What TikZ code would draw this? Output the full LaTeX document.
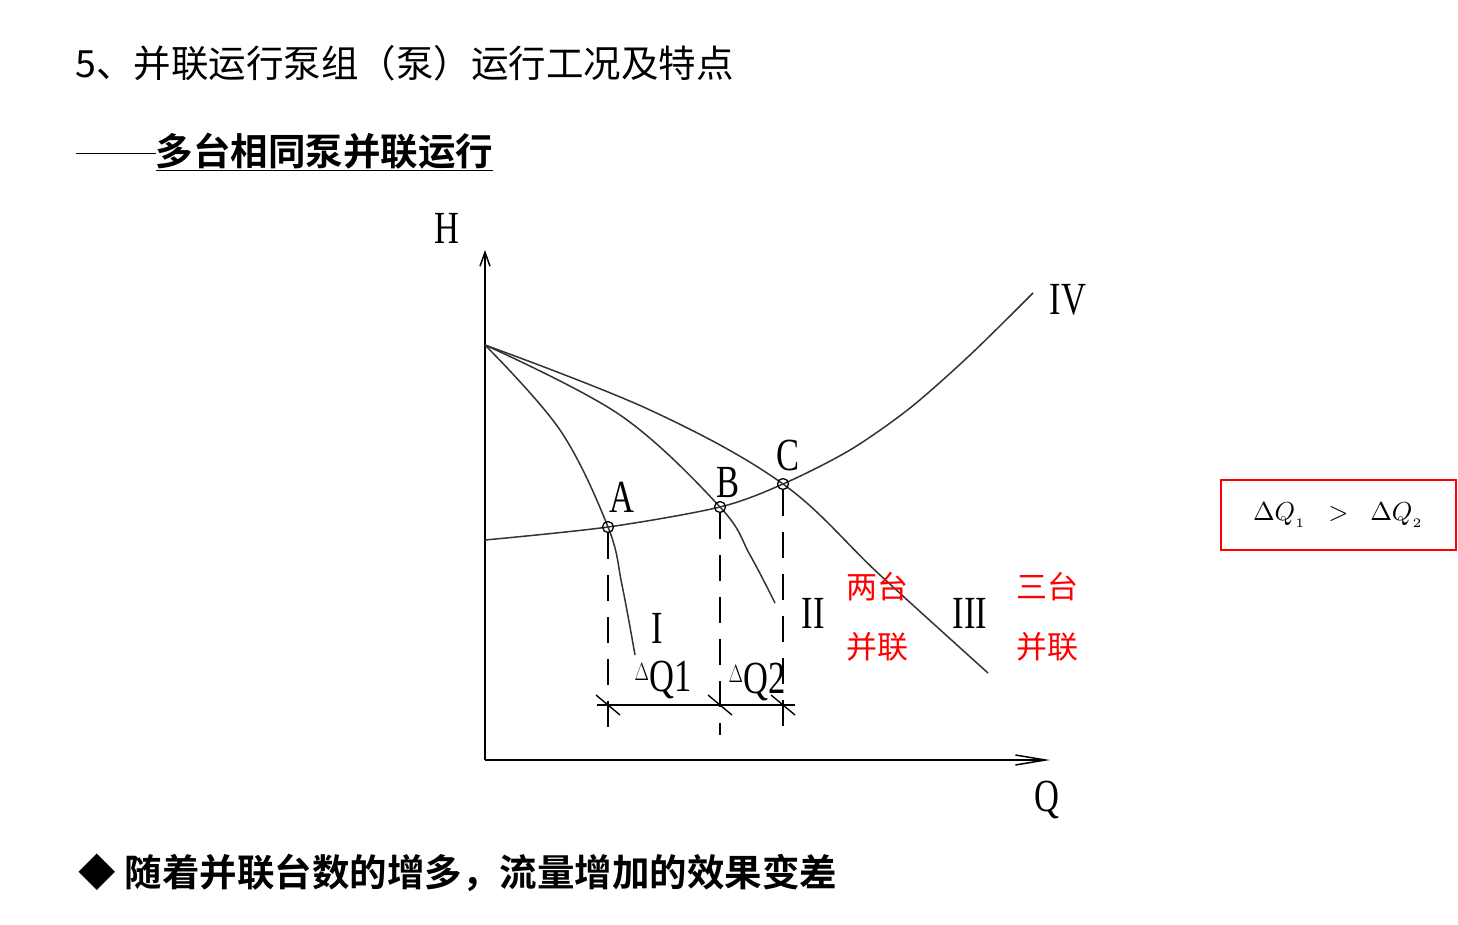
\documentclass[tikz,border=0pt]{standalone}
\usepackage{fontspec}
\newfontfamily\cjk{Noto Sans CJK SC}
\newfontfamily\cjkb{Noto Sans CJK SC Bold}
\setmainfont{Liberation Serif}
\usetikzlibrary{arrows.meta}
\begin{document}
\begin{tikzpicture}[x=1pt,y=-1pt,
  crv/.style={line width=1.5pt,black!80},
  dsh/.style={line width=1.4pt,dash pattern=on 26pt off 16pt},
  lbl/.style={font=\fontsize{46}{46}\selectfont,scale=1,xscale=0.75},
  red/.style={text=red,font=\cjk\fontsize{31}{31}\selectfont},
  pt/.style={circle,draw,line width=1.3pt,inner sep=0pt,minimum size=11pt}]
\useasboundingbox (0,0) rectangle (1458,924);
\node[anchor=west,font=\cjk\fontsize{37.5}{37.5}\selectfont] (t) at (72,63) {5、并联运行泵组（泵）运行工况及特点};
\node[anchor=west,font=\cjkb\fontsize{37.5}{37.5}\selectfont] (s) at (72,152) {\rule[0.3em]{80pt}{1.5pt}\underline{多台相同泵并联运行}};
\node[anchor=west,font=\cjkb\fontsize{37.5}{37.5}\selectfont] (b) at (75,873) {◆ 随着并联台数的增多，流量增加的效果变差};
% axes
\coordinate (O) at (485,760);
\coordinate (Ht) at (485,250);
\coordinate (Qt) at (1050,760);
\draw[line width=1.5pt,-{Straight Barb[length=14pt,width=10pt]}] (O) -- (Ht);
\draw[line width=1.5pt,-{Straight Barb[length=30pt,width=10pt]}] (O) -- (Qt);
\node[lbl] (H) at (447,228) {H};
\node[lbl] (Q) at (1047,800) {Q};
% points
\coordinate (S) at (485,345);
\coordinate (A) at (608,527);
\coordinate (B) at (720,507);
\coordinate (C) at (783,484);
\draw[crv] plot[smooth,tension=0.6] coordinates {(S) (560,430) (A) (622,585) (635,655)};
\draw[crv] plot[smooth,tension=0.6] coordinates {(S) (620,415) (B) (750,555) (775,603)};
\draw[crv] plot[smooth,tension=0.6] coordinates {(S) (650,410) (C) (880,575) (988,673)};
\draw[crv] plot[smooth,tension=0.5] coordinates {(485,540) (A) (B) (C) (850,450) (910,408) (970,355) (1033,293)};
\node[pt] (pA) at (A) {};
\node[pt] (pB) at (B) {};
\node[pt] (pC) at (C) {};
\coordinate (a1) at (608,735); \coordinate (b1) at (720,735); \coordinate (c1) at (783,735);
\draw[dsh] (pA.south) -- (a1);
\draw[dsh] (pB.south) -- (b1);
\draw[dsh] (pC.south) -- (c1);
\coordinate (d1) at (597,705); \coordinate (d2) at (795,705);
\draw[line width=1.4pt] (d1) -- (d2);
\foreach \x in {608,720,783} \draw[line width=1.4pt] (\x-12,695) -- (\x+12,715);
\node[lbl] (lA) at (622,497) {A};
\node[lbl] (lB) at (728,482) {B};
\node[lbl] (lC) at (788,455) {C};
\node[lbl] (l1) at (657,628) {I};
\node[lbl] (l2) at (813,613) {II};
\node[lbl] (l3) at (970,613) {III};
\node[lbl] (l4) at (1068,300) {IV};
\node[lbl] (q1) at (663,680) {\raisebox{0.25em}{\fontsize{28}{28}\selectfont$\Delta$}Q1};
\node[lbl] (q2) at (757,682) {\raisebox{0.25em}{\fontsize{28}{28}\selectfont$\Delta$}Q2};
\node[red] (r1) at (877,587) {两台};
\node[red] (r2) at (877,647) {并联};
\node[red] (r3) at (1047,587) {三台};
\node[red] (r4) at (1047,647) {并联};
\node[draw=red,line width=1.5pt,minimum width=235pt,minimum height=70pt] (box) at (1338.5,515) {};
\node[scale=2.6] (bt) at (box) {$\Delta Q_{{}_1}\;\;>\;\;\Delta Q_{{}_2}$};
\end{tikzpicture}
\end{document}
